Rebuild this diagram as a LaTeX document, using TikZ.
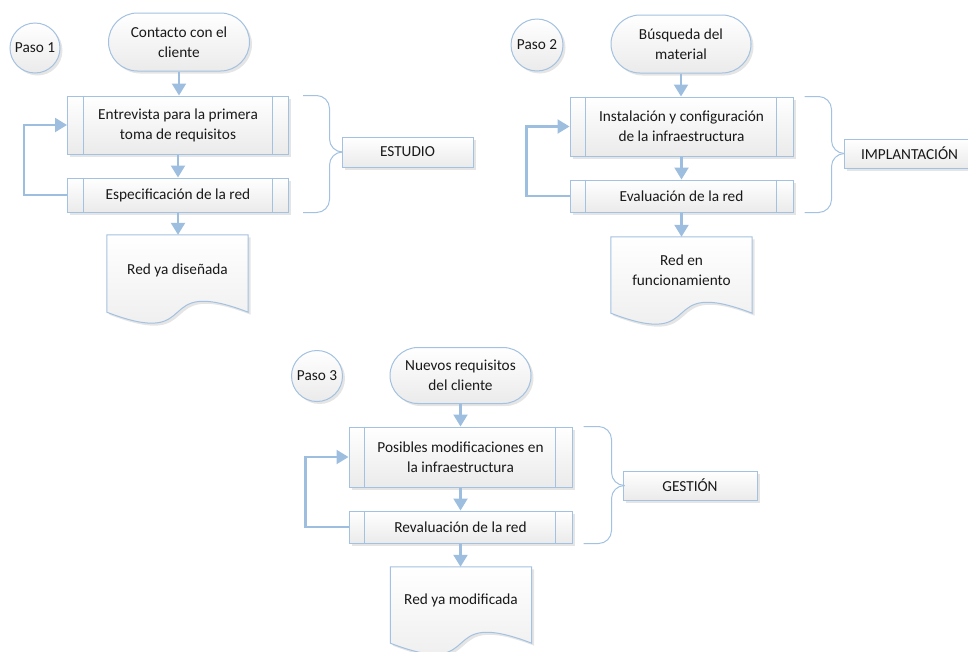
\documentclass[tikz,border=0pt]{standalone}
\usepackage{fontspec}
\setmainfont{Carlito}
\usetikzlibrary{arrows.meta,shapes.misc,shadows,calc}
\definecolor{edgeblue}{RGB}{163,193,224}
\definecolor{connblue}{RGB}{157,190,222}
\definecolor{inkgray}{RGB}{25,25,25}
\tikzset{
  txt/.style={font=\fontsize{15.3}{20}\selectfont, align=center, text=inkgray},
  base/.style={draw=edgeblue, line width=1pt, top color=white, bottom color=black!8,
    drop shadow={shadow xshift=2.5pt, shadow yshift=-2.5pt, opacity=1, fill=black!10},
    txt, inner sep=0pt},
  stepcirc/.style={base, circle, minimum size=50pt},
  term/.style={base, rounded rectangle, minimum width=141pt, minimum height=58pt},
  procbox/.style={base, rectangle, minimum width=221pt},
  tagbox/.style={base, rectangle, minimum width=131pt, minimum height=30pt},
  docbox/.style={inner sep=0pt, minimum width=141pt, minimum height=77pt},
  flow/.style={draw=connblue, line width=2.2pt, -{Triangle[width=14pt,length=12pt]}},
  brace/.style={draw=edgeblue, line width=1pt, rounded corners=13pt},
  sideline/.style={draw=edgeblue, line width=1pt},
}
\begin{document}
\begin{tikzpicture}[x=1pt,y=-1pt]
\useasboundingbox (0,0) rectangle (968,651);
\clip (0,0) rectangle (968,651);

% ---------------- Paso 1: estudio ----------------
\node[stepcirc] (p1) at (35,48) {Paso 1};
\node[term] (c1) at (179,42) {Contacto con el\\cliente};
\node[procbox, minimum height=58pt] (e1) at (178,125) {Entrevista para la primera\\toma de requisitos};
\node[procbox, minimum height=34pt] (s1) at (178,195) {Especificación de la red};
\node[docbox] (d1) at (177.5,273.5) {};
\node[tagbox] (t1) at (407.5,152) {ESTUDIO};

% ---------------- Paso 2: implantacion ----------------
\node[stepcirc, minimum size=52pt] (p2) at (537,45) {Paso 2};
\node[term, minimum width=140pt] (c2) at (681,44) {Búsqueda del\\material};
\node[procbox, minimum width=223pt, minimum height=59pt] (e2) at (681.5,126.5) {Instalación y configuración\\de la infraestructura};
\node[procbox, minimum width=223pt, minimum height=32pt] (s2) at (681.5,196) {Evaluación de la red};
\node[docbox, minimum height=76pt] (d2) at (681.5,275) {};
\node[tagbox, minimum height=29pt] (t2) at (909.5,153.5) {IMPLANTACIÓN};

% ---------------- Paso 3: gestion ----------------
\node[stepcirc, minimum size=51pt] (p3) at (317,376) {Paso 3};
\node[term, minimum height=56pt] (c3) at (460.5,375.5) {Nuevos requisitos\\del cliente};
\node[procbox, minimum width=223pt, minimum height=60pt] (e3) at (460.5,457) {Posibles modificaciones en\\la infraestructura};
\node[procbox, minimum width=223pt, minimum height=32pt] (s3) at (460.5,527) {Revaluación de la red};
\node[docbox, minimum height=76pt] (d3) at (461,605) {};
\node[tagbox, minimum width=134pt, minimum height=29pt] (t3) at (690,485.5) {GESTIÓN};

% side bars of the predefined-process boxes
\foreach \b in {e1,s1,e2,s2,e3,s3}{
  \draw[sideline] ($(\b.north west)+(16,0)$) -- ($(\b.south west)+(16,0)$);
  \draw[sideline] ($(\b.north east)+(-17,0)$) -- ($(\b.south east)+(-17,0)$);
}

% document shapes with a wavy bottom edge
\foreach \d in {d1,d2,d3}{
  \path[base] (\d.north west) -- (\d.north east) -- (\d.south east)
    .. controls ($(\d.south west)!0.3!(\d.south east)+(0,-38)$)
           and ($(\d.south west)!0.7!(\d.south east)+(0,38)$) .. (\d.south west) -- cycle;
}
\node[txt] at ($(d1.center)+(0,-3.5)$) {Red ya diseñada};
\node[txt] at ($(d2.center)+(0,-5)$) {Red en\\funcionamiento};
\node[txt] at ($(d3.center)+(0,-5)$) {Red ya modificada};

% vertical flow arrows
\foreach \a/\b in {c1/e1,e1/s1,s1/d1,c2/e2,e2/s2,s2/d2,c3/e3,e3/s3,s3/d3}{
  \draw[flow] (\a.south) -- (\a.south |- \b.north);
}

% feedback loops
\draw[flow] (s1.west) -- ++(-43,0) |- (e1.west);
\draw[flow] (s2.west) -- ++(-43,0) |- (e2.west);
\draw[flow] (s3.west) -- ++(-43,0) |- (e3.west);

% braces grouping each pair of steps
\draw[brace] ($(e1.north east)+(14,0)$) -- ($(e1.north east -| t1.west)+(-12,0)$) -- ($(t1.west)+(-12,0)$) -- (t1.west);
\draw[brace] ($(s1.south east)+(14,0)$) -- ($(s1.south east -| t1.west)+(-12,0)$) -- ($(t1.west)+(-12,0)$) -- (t1.west);
\draw[brace] ($(e2.north east)+(11,0)$) -- ($(e2.north east -| t2.west)+(-12,0)$) -- ($(t2.west)+(-12,0)$) -- (t2.west);
\draw[brace] ($(s2.south east)+(11,0)$) -- ($(s2.south east -| t2.west)+(-12,0)$) -- ($(t2.west)+(-12,0)$) -- (t2.west);
\draw[brace] ($(e3.north east)+(11,0)$) -- ($(e3.north east -| t3.west)+(-11,0)$) -- ($(t3.west)+(-11,0)$) -- (t3.west);
\draw[brace] ($(s3.south east)+(11,0)$) -- ($(s3.south east -| t3.west)+(-11,0)$) -- ($(t3.west)+(-11,0)$) -- (t3.west);
\end{tikzpicture}
\end{document}
